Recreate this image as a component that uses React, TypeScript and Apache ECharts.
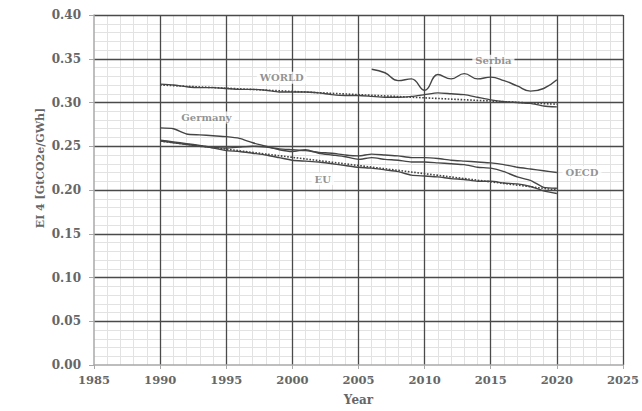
import React, { useEffect, useRef } from "react";
import * as echarts from "echarts";

const YEARS = [1990, 1991, 1992, 1993, 1994, 1995, 1996, 1997, 1998, 1999, 2000, 2001, 2002, 2003, 2004, 2005, 2006, 2007, 2008, 2009, 2010, 2011, 2012, 2013, 2014, 2015, 2016, 2017, 2018, 2019, 2020];
const WORLD = [0.321, 0.320, 0.318, 0.317, 0.317, 0.316, 0.315, 0.315, 0.314, 0.312, 0.312, 0.312, 0.311, 0.309, 0.308, 0.308, 0.307, 0.306, 0.306, 0.307, 0.309, 0.311, 0.310, 0.309, 0.306, 0.303, 0.301, 0.300, 0.299, 0.296, 0.295];
const OECD = [0.257, 0.255, 0.253, 0.251, 0.249, 0.248, 0.249, 0.250, 0.249, 0.247, 0.246, 0.245, 0.243, 0.242, 0.240, 0.239, 0.241, 0.240, 0.239, 0.237, 0.237, 0.236, 0.234, 0.233, 0.232, 0.231, 0.229, 0.226, 0.224, 0.222, 0.220];
const GERMANY = [0.271, 0.270, 0.264, 0.263, 0.262, 0.261, 0.259, 0.254, 0.250, 0.246, 0.244, 0.246, 0.242, 0.240, 0.238, 0.235, 0.237, 0.235, 0.234, 0.232, 0.232, 0.231, 0.230, 0.229, 0.226, 0.225, 0.221, 0.215, 0.211, 0.203, 0.202];
const EU = [0.256, 0.254, 0.252, 0.250, 0.248, 0.245, 0.244, 0.242, 0.240, 0.237, 0.234, 0.233, 0.232, 0.230, 0.228, 0.226, 0.225, 0.223, 0.221, 0.217, 0.216, 0.215, 0.213, 0.212, 0.210, 0.210, 0.208, 0.207, 0.204, 0.199, 0.196];
const SERBIA_YEARS = [2006, 2007, 2008, 2009, 2010, 2011, 2012, 2013, 2014, 2015, 2016, 2017, 2018, 2019, 2020];
const SERBIA = [0.338, 0.334, 0.325, 0.327, 0.314, 0.332, 0.327, 0.333, 0.327, 0.329, 0.325, 0.319, 0.313, 0.316, 0.326];
const WORLD_TREND = [[1990, 0.320], [2020, 0.298]];
const EU_TREND = [[1990, 0.256], [2020, 0.200]];
const LABELS = [
  { name: "WORLD", value: [1999.2, 0.3284] },
  { name: "Serbia", value: [2015.2, 0.3477] },
  { name: "Germany", value: [1993.5, 0.283] },
  { name: "EU", value: [2002.3, 0.2125] },
  { name: "OECD", value: [2021.9, 0.2205] },
];
const Y_TITLE = "EI 4 [GtCO2e/GWh]";
const X_TITLE = "Year";

const FONT = "DejaVu Serif";
const LINE_COLOR = "#454545";
const MAJOR = { color: "#4a4a4a", width: 1.3 };
const MINOR = { color: "#e2e2e2", width: 1 };

const pairs = (xs: number[], ys: number[]) => xs.map((x, i) => [x, ys[i]]);

export default function App() {
  const ref = useRef<HTMLDivElement>(null);
  useEffect(() => {
    const chart = echarts.init(ref.current!, null, { renderer: "svg" });
    const lineSeries = (name: string, data: number[][], smooth: number, dotted = false) => ({
      type: "line",
      name,
      data,
      smooth,
      showSymbol: false,
      symbol: "none",
      lineStyle: { color: LINE_COLOR, width: dotted ? 1.6 : 1.4, type: dotted ? "dotted" : "solid" },
      z: dotted ? 4 : 3,
    });
    const xBase = { type: "value", min: 1985, max: 2025, interval: 5, gridIndex: 0 };
    const yBase = { type: "value", min: 0, max: 0.4, interval: 0.05, gridIndex: 0 };
    chart.setOption({
      animation: false,
      backgroundColor: "#ffffff",
      grid: { left: 94, right: 14.5, top: 15, bottom: 44 },
      xAxis: [
        {
          ...xBase,
          z: 1,
          name: X_TITLE,
          nameLocation: "middle",
          nameGap: 29,
          nameTextStyle: { fontFamily: FONT, fontWeight: "bold", fontSize: 12, color: "#666" },
          axisLine: { show: false },
          axisTick: { show: false },
          axisLabel: { fontFamily: FONT, fontWeight: "bold", fontSize: 11.5, color: "#666", margin: 9, formatter: (v: number) => String(v) },
          splitLine: { show: false },
          minorTick: { show: true, splitNumber: 5, length: 0 },
          minorSplitLine: { show: true, lineStyle: MINOR },
        },
        {
          ...xBase,
          position: "bottom",
          z: 2,
          axisLine: { show: true, onZero: false, lineStyle: { color: "#a8a8a8", width: 1.5 } },
          axisTick: { show: true, length: 4, lineStyle: { color: "#a8a8a8" } },
          axisLabel: { show: false },
          splitLine: { show: true, showMinLine: false, lineStyle: MAJOR },
        },
      ],
      yAxis: [
        {
          ...yBase,
          z: 1,
          axisLine: { show: false },
          axisTick: { show: false },
          axisLabel: { fontFamily: FONT, fontWeight: "bold", fontSize: 12, color: "#666", margin: 13, formatter: (v: number) => v.toFixed(2) },
          splitLine: { show: false },
          minorTick: { show: true, splitNumber: 5, length: 0 },
          minorSplitLine: { show: true, lineStyle: MINOR },
        },
        {
          ...yBase,
          position: "left",
          z: 2,
          axisLine: { show: true, onZero: false, lineStyle: { color: "#a8a8a8", width: 1.5 } },
          axisTick: { show: true, length: 5, lineStyle: { color: "#a8a8a8" } },
          axisLabel: { show: false },
          splitLine: { show: true, showMinLine: false, lineStyle: MAJOR },
        },
      ],
      graphic: [
        {
          type: "text",
          x: 40,
          y: 168,
          rotation: Math.PI / 2,
          style: {
            text: Y_TITLE,
            fontFamily: FONT,
            fontWeight: "bold",
            fontSize: 11,
            fill: "#666",
            align: "center",
            verticalAlign: "middle",
          },
        },
      ],
      series: [
        lineSeries("WORLD", pairs(YEARS, WORLD), 0.2),
        lineSeries("WORLD trend", WORLD_TREND, 0, true),
        lineSeries("Serbia", pairs(SERBIA_YEARS, SERBIA), 0.45),
        lineSeries("OECD", pairs(YEARS, OECD), 0.2),
        lineSeries("Germany", pairs(YEARS, GERMANY), 0.2),
        lineSeries("EU", pairs(YEARS, EU), 0.2),
        lineSeries("EU trend", EU_TREND, 0, true),
        {
          type: "scatter",
          symbolSize: 0,
          data: LABELS,
          z: 5,
          label: {
            show: true,
            position: "inside",
            formatter: "{b}",
            fontFamily: FONT,
            fontWeight: "bold",
            fontSize: 10,
            color: "#777",
            backgroundColor: "#ffffff",
            padding: [1, 3],
          },
        },
      ],
    });
    return () => chart.dispose();
  }, []);
  return <div ref={ref} style={{ position: "fixed", left: 0, top: 0, width: 642, height: 411 }} />;
}
